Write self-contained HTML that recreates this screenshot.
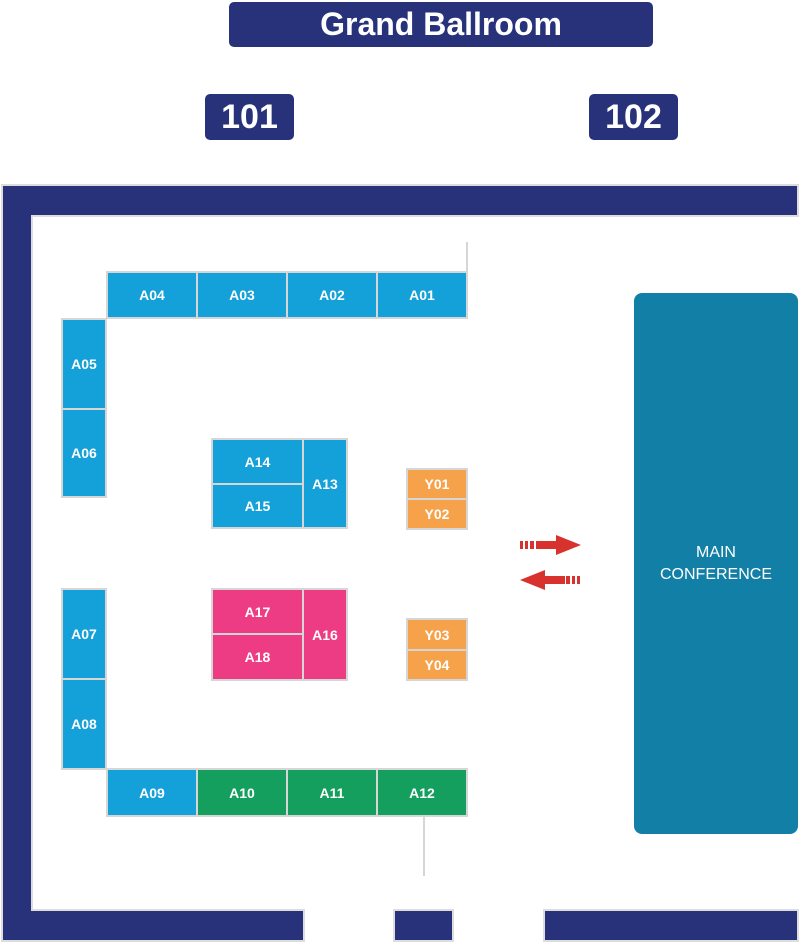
<!DOCTYPE html>
<html><head><style>
body{margin:0;width:800px;height:943px;background:#fff;position:relative;overflow:hidden;font-family:"Liberation Sans",sans-serif}
.a{position:absolute;box-sizing:border-box}
.n{background:#27327a;color:#fff;border-radius:5px;display:flex;align-items:center;justify-content:center;font-weight:bold}
.w{background:#27327a;outline:2px solid #ddd}
.b{border:2px solid #d6d6d6;color:#fff;font-weight:bold;font-size:14px;display:flex;align-items:center;justify-content:center}
.bl{background:#14a0d8}.pk{background:#ee3c84}.gr{background:#159f5e}.or{background:#f6a24a}
.g{background:#d6d6d6}
</style></head><body>
<div class="a n" style="left:229px;top:2px;width:424px;height:45px;font-size:32px">Grand Ballroom</div>
<div class="a n" style="left:205px;top:94px;width:89px;height:46px;font-size:34px">101</div>
<div class="a n" style="left:589px;top:94px;width:89px;height:46px;font-size:34px">102</div>

<div class="a w" style="left:3px;top:186px;width:794px;height:29px"></div>
<div class="a w" style="left:3px;top:186px;width:28px;height:754px"></div>
<div class="a w" style="left:3px;top:911px;width:300px;height:29px"></div>
<div class="a w" style="left:3px;top:186px;width:28px;height:754px;outline:none"></div>
<div class="a w" style="left:3px;top:186px;width:794px;height:29px;outline:none"></div>
<div class="a w" style="left:395px;top:911px;width:57px;height:29px"></div>
<div class="a w" style="left:545px;top:911px;width:252px;height:29px"></div>

<div class="a g" style="left:466px;top:242px;width:2px;height:32px"></div>
<div class="a g" style="left:423px;top:814px;width:2px;height:62px"></div>

<div class="a b bl" style="left:106px;top:271px;width:92px;height:48px">A04</div>
<div class="a b bl" style="left:196px;top:271px;width:92px;height:48px">A03</div>
<div class="a b bl" style="left:286px;top:271px;width:92px;height:48px">A02</div>
<div class="a b bl" style="left:376px;top:271px;width:92px;height:48px">A01</div>

<div class="a b bl" style="left:61px;top:318px;width:46px;height:92px">A05</div>
<div class="a b bl" style="left:61px;top:408px;width:46px;height:90px">A06</div>
<div class="a b bl" style="left:61px;top:588px;width:46px;height:92px">A07</div>
<div class="a b bl" style="left:61px;top:678px;width:46px;height:92px">A08</div>

<div class="a b bl" style="left:106px;top:768px;width:92px;height:49px">A09</div>
<div class="a b gr" style="left:196px;top:768px;width:92px;height:49px">A10</div>
<div class="a b gr" style="left:286px;top:768px;width:92px;height:49px">A11</div>
<div class="a b gr" style="left:376px;top:768px;width:92px;height:49px">A12</div>

<div class="a b bl" style="left:211px;top:438px;width:93px;height:47px">A14</div>
<div class="a b bl" style="left:211px;top:483px;width:93px;height:46px">A15</div>
<div class="a b bl" style="left:302px;top:438px;width:46px;height:91px">A13</div>

<div class="a b pk" style="left:211px;top:588px;width:93px;height:47px">A17</div>
<div class="a b pk" style="left:211px;top:633px;width:93px;height:48px">A18</div>
<div class="a b pk" style="left:302px;top:588px;width:46px;height:93px">A16</div>

<div class="a b or" style="left:406px;top:468px;width:62px;height:32px">Y01</div>
<div class="a b or" style="left:406px;top:498px;width:62px;height:32px">Y02</div>
<div class="a b or" style="left:406px;top:618px;width:62px;height:33px">Y03</div>
<div class="a b or" style="left:406px;top:649px;width:62px;height:32px">Y04</div>

<div class="a" style="left:634px;top:293px;width:164px;height:541px;background:#127fa6;border-radius:8px;color:#fff;font-size:16px;display:flex;align-items:center;justify-content:center;text-align:center;line-height:22px">MAIN<br>CONFERENCE</div>

<svg class="a" style="left:515px;top:530px" width="70" height="65">
<g fill="#d8322e">
<rect x="5" y="11" width="3" height="8"/><rect x="10" y="11" width="3" height="8"/><rect x="15" y="11" width="4" height="8"/><rect x="21" y="11" width="8" height="8"/><rect x="28" y="11" width="14" height="8"/><polygon points="41,5 66,15 41,25"/>
<rect x="62" y="46" width="3" height="8"/><rect x="57" y="46" width="3" height="8"/><rect x="51" y="46" width="4" height="8"/><rect x="42" y="46" width="8" height="8"/><rect x="29" y="46" width="14" height="8"/><polygon points="30,40 5,50 30,60"/>
</g></svg>
</body></html>
